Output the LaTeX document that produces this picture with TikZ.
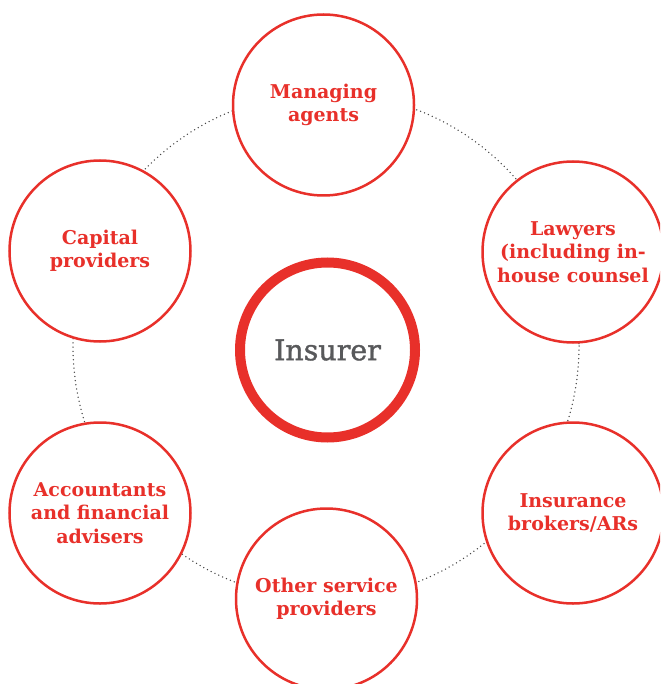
\documentclass[tikz,border=0pt]{standalone}
\usepackage{fontspec}
\setmainfont{DejaVu Serif}
\newfontfamily\hubfont[FakeBold=1.3]{DejaVu Serif}
\definecolor{ired}{RGB}{232,48,42}
\definecolor{igray}{RGB}{88,89,91}
\definecolor{dotgray}{RGB}{70,70,70}
\begin{document}
\begin{tikzpicture}[x=1pt,y=-1pt,
  party/.style={circle,draw=ired,line width=2.5pt,fill=white,minimum size=181pt,inner sep=0pt,
    align=center,text=ired,font=\bfseries\fontsize{19}{23.5}\selectfont},
  hub/.style={circle,draw=ired,line width=10pt,fill=white,minimum size=175pt,inner sep=0pt,
    text=igray,font=\hubfont\fontsize{28.5}{34}\selectfont}]
\useasboundingbox (0,0) rectangle (660,684);
\clip (0,0) rectangle (660,684);
\coordinate (ring) at (326,346);
\draw[dotgray,line width=1.5pt,line cap=round,dash pattern=on 0pt off 4.2pt] (ring) circle (253);
\node[hub] (ins) at (327.5,350) {Insurer};
\node[party] (ma) at (323.5,105) {Managing\\agents};
\node[party] (law) at (573,252) {Lawyers\\(including in-\\house counsel};
\node[party] (brk) at (573,513) {Insurance\\brokers/ARs};
\node[party] (osp) at (326.5,599) {Other service\\providers};
\node[party] (acc) at (100,513) {Accountants\\and financial\\advisers};
\node[party] (cap) at (100,251) {Capital\\providers};
\end{tikzpicture}
\end{document}
